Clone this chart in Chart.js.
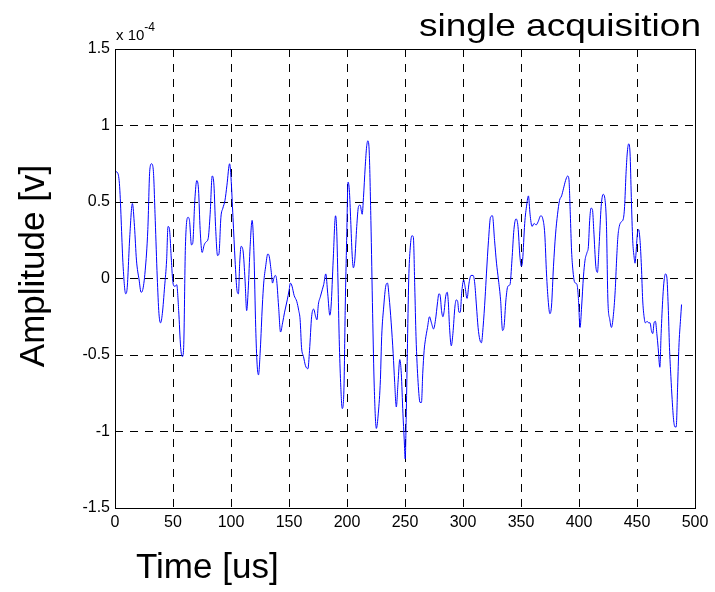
<!DOCTYPE html>
<html>
<head>
<meta charset="utf-8">
<script src="https://cdn.jsdelivr.net/npm/chart.js@4/dist/chart.umd.min.js"></script>
<style>
html,body{margin:0;padding:0;background:#fff;}
#wrap{width:715px;height:592px;}
</style>
</head>
<body>
<div id="wrap"><canvas id="c" width="715" height="592"></canvas></div>
<script>
// ---- data (time in microseconds, amplitude in units of 1e-4 V) ----
const timeUs = [
0,2.3,4,7,9.2,10.4,12.7,15,16.8,18.5,20.8,22.5,23.7,26,28.3,30,31.5,33,34.7,36.4,37.9,39.3,40.8,42.8,44.5,45.7,46.8,48.6,49.7,50.9,52,53.2,54.9,56.6,58.1,59.2,60.7,63,64.2,65.9,67,68.8,70.5,72,73.4,75.1,76.9,78.6,80.3,82,83.8,85.3,86.7,88.4,89.6,91.3,93,94.8,96.5,98.8,100,101.7,103.5,105.2,106.4,107.5,108.7,110.4,112.1,113.5,114.8,116.5,118.2,119.8,121.3,122.5,123.7,125.3,
127,128.2,129.9,131.7,132.8,134.6,135.8,136.9,138.1,139.2,141,142.7,144.5,146.2,148.5,150,151.2,152.6,154.4,156.7,158.4,159.6,160.8,162.5,164.2,166.3,167.7,169.5,171.2,173,174.1,175.3,177,178.8,179.9,181.7,183.4,185.2,186.3,188.1,190.1,191,192.2,193.3,194.5,195.9,197.4,198.5,199.7,200.9,202,203.2,204.4,205.5,206.7,208.4,209.9,211.3,213.1,214.2,215.7,216.9,218,219.2,220.6,222.1,223.5,225.3,227,228.8,229.9,231.7,233.4,234.9,236.3,238.1,239.8,241.1,242.5,244,245.5,246.8,248.2,249.3,250.2,
251,252,253.2,254.5,256,257.2,258.4,259.5,261.3,263,264.2,265.3,266.5,267.6,269.4,271.1,272.8,274.6,276.3,278,279.2,280.3,281.5,282.7,283.8,285,286.4,287.3,288.4,289.9,291.3,293.1,294.2,295.4,296.5,297.7,298.8,300.6,301.7,303.5,305.2,306.9,308.7,310.1,311.6,313,314.5,315.9,317.3,319.1,320.2,322,323.7,325.4,327.2,328.9,330.6,332.4,334.1,335.3,337,338.7,340.5,342.2,343.9,345.7,347.4,349.1,350.3,351.4,353.2,354.9,356.4,
357.8,359.5,361.3,363,364.7,367,368.8,370.5,372,373.4,374.9,376.3,378,379.8,381.5,383.2,385,386.7,388.4,390.2,391.3,392.5,393.6,394.8,396,397.1,398.3,399.4,400.9,402.3,403.8,405.2,406.9,408.1,409.2,410.4,411.6,412.7,414.5,415.9,417.3,419.1,420.8,422.5,423.7,424.9,426.6,428,429.5,431.2,432.4,433.5,434.7,436.4,438.2,439.3,440.5,441.6,442.8,444,445.1,446.3,447.5,448.3,449.1,450.3,451.4,452.6,453.8,454.9,456.1,457.2,458.7,460.1,461.3,462.4,463.6,464.7,465.9,467.1,468.2,469.7,470.8,472.3,473.4,474.6,475.7,476.9,478,479.2,480.3,481.5,482.7,483.8,485,486.1,487.6,488.4
];
const amplitudeE4 = [
0.70,0.69,0.60,0.08,-0.10,-0.07,0.27,0.49,0.34,0.12,-0.01,-0.09,-0.08,0.05,0.32,0.71,0.75,0.71,0.38,0.01,-0.23,-0.29,-0.23,-0.05,0.12,0.34,0.33,0.12,-0.01,-0.05,-0.05,-0.04,-0.21,-0.45,-0.51,-0.45,0.21,0.40,0.38,0.22,0.23,0.51,0.64,0.58,0.32,0.17,0.22,0.24,0.26,0.42,0.67,0.61,0.34,0.15,0.16,0.40,0.46,0.51,0.61,0.75,0.66,0.40,0.12,-0.08,-0.10,0.10,0.21,0.18,-0.01,-0.21,-0.08,0.21,0.38,0.16,-0.32,-0.56,-0.63,-0.46,
-0.18,-0.03,0.08,0.16,0.15,0.05,-0.03,0.00,0.02,0.00,-0.18,-0.35,-0.29,-0.22,-0.14,-0.08,-0.03,-0.05,-0.11,-0.15,-0.21,-0.27,-0.45,-0.51,-0.57,-0.59,-0.47,-0.25,-0.20,-0.25,-0.27,-0.17,-0.12,-0.07,-0.04,0.03,-0.10,-0.24,-0.18,0.12,0.41,0.34,-0.01,-0.40,-0.68,-0.85,-0.71,-0.18,0.25,0.63,0.58,0.38,0.16,0.07,0.12,0.34,0.47,0.48,0.42,0.53,0.73,0.86,0.90,0.82,0.38,-0.23,-0.71,-0.98,-0.88,-0.66,-0.38,-0.18,-0.05,-0.03,-0.12,-0.29,-0.49,-0.68,-0.84,-0.68,-0.53,-0.62,-0.88,-1.05,-1.18,
-0.92,-0.49,-0.01,0.20,0.28,0.27,-0.05,-0.38,-0.68,-0.81,-0.81,-0.62,-0.47,-0.40,-0.32,-0.25,-0.29,-0.33,-0.27,-0.16,-0.10,-0.11,-0.21,-0.25,-0.21,-0.12,-0.09,-0.15,-0.32,-0.44,-0.36,-0.18,-0.14,-0.15,-0.22,-0.22,-0.10,-0.01,-0.05,-0.13,-0.03,0.02,0.02,-0.03,-0.18,-0.32,-0.40,-0.42,-0.32,-0.12,0.03,0.25,0.40,0.41,0.25,0.10,-0.01,-0.14,-0.34,-0.32,-0.14,-0.05,-0.04,0.12,0.32,0.39,0.34,0.14,0.08,0.12,0.36,0.48,0.54,
0.42,0.34,0.36,0.35,0.37,0.41,0.39,0.29,0.03,-0.14,-0.23,-0.18,0.08,0.29,0.42,0.51,0.54,0.59,0.64,0.67,0.65,0.42,0.18,0.05,-0.02,-0.03,-0.04,-0.12,-0.32,-0.18,0.01,0.12,0.17,0.21,0.38,0.46,0.45,0.32,0.08,0.04,0.21,0.47,0.55,0.51,0.34,-0.14,-0.27,-0.32,-0.25,-0.08,0.12,0.27,0.34,0.37,0.39,0.47,0.68,0.82,0.88,0.82,0.53,0.25,0.14,0.10,0.16,0.29,0.32,0.25,0.08,-0.14,-0.25,-0.29,-0.28,-0.29,-0.29,-0.34,-0.36,-0.29,-0.28,-0.36,-0.45,-0.58,-0.36,-0.12,-0.01,0.03,0.01,-0.18,-0.45,-0.64,-0.79,-0.92,-0.97,-0.97,-0.71,-0.45,-0.26,-0.17
];
const xTickValues = [0,50,100,150,200,250,300,350,400,450,500];
const xTickLabels = ['0','50','100','150','200','250','300','350','400','450','500'];
const yTickValues = [-1.5,-1,-0.5,0,0.5,1,1.5];
const yTickLabels = ['-1.5','-1','-0.5','0','0.5','1','1.5'];
const titleText = 'single acquisition';
const xAxisTitle = 'Time [us]';
const yAxisTitle = 'Amplitude [v]';
const multiplierBase = 'x 10';
const multiplierExp = '-4';

const FONT = "'Liberation Sans', Arial, Helvetica, sans-serif";

const decorPlugin = {
  id: 'decor',
  afterDraw(chart) {
    const ctx = chart.ctx;
    const a = chart.chartArea;
    ctx.save();
    // axes box
    ctx.strokeStyle = '#000';
    ctx.lineWidth = 1;
    ctx.setLineDash([]);
    ctx.strokeRect(Math.round(a.left) + 0.5, Math.round(a.top) + 0.5,
                   Math.round(a.right - a.left), Math.round(a.bottom - a.top));
    ctx.fillStyle = '#000';
    // title (right aligned, slightly wide)
    ctx.font = '32px ' + FONT;
    ctx.textBaseline = 'alphabetic';
    ctx.textAlign = 'left';
    const tw = ctx.measureText(titleText).width;
    const target = 282;
    const sx = target / tw;
    ctx.save();
    ctx.translate(701 - target, 36);
    ctx.scale(sx, 1);
    ctx.fillText(titleText, 0, 0);
    ctx.restore();
    // multiplier
    ctx.font = '15px ' + FONT;
    ctx.fillText(multiplierBase, a.left + 1, 40);
    const mw = ctx.measureText(multiplierBase).width;
    ctx.font = '12px ' + FONT;
    ctx.fillText(multiplierExp, a.left + 1 + mw, 31);
    // x axis title
    ctx.font = '35px ' + FONT;
    ctx.fillText(xAxisTitle, 136, 578);
    // y axis title
    ctx.save();
    ctx.translate(44, 266);
    ctx.rotate(-Math.PI / 2);
    ctx.textAlign = 'center';
    ctx.fillText(yAxisTitle, 0, 0);
    ctx.restore();
    ctx.restore();
  }
};

new Chart(document.getElementById('c'), {
  type: 'line',
  data: {
    datasets: [{
      data: timeUs.map((t, i) => ({ x: t, y: amplitudeE4[i] })),
      borderColor: '#0000ff',
      borderWidth: 1,
      pointRadius: 0,
      fill: false,
      cubicInterpolationMode: 'monotone'
    }]
  },
  options: {
    responsive: false,
    animation: false,
    devicePixelRatio: 1,
    layout: { padding: { left: 0, right: 20, top: 49, bottom: 0 } },
    plugins: { legend: { display: false }, tooltip: { enabled: false }, title: { display: false } },
    scales: {
      x: {
        type: 'linear', min: 0, max: 500,
        afterBuildTicks: s => { s.ticks = xTickValues.map(v => ({ value: v })); },
        afterFit: s => { s.height = 84; },
        ticks: { callback: (v, i) => xTickLabels[i], color: '#000', font: { family: FONT, size: 16 }, padding: 5, maxRotation: 0, autoSkip: false },
        grid: { color: '#000', lineWidth: 1, drawTicks: false },
        border: { display: false, dash: [8, 7] }
      },
      y: {
        type: 'linear', min: -1.5, max: 1.5,
        afterBuildTicks: s => { s.ticks = yTickValues.map(v => ({ value: v })); },
        afterFit: s => { s.width = 115; },
        ticks: { callback: (v, i) => yTickLabels[i], color: '#000', font: { family: FONT, size: 16 }, padding: 5, autoSkip: false },
        grid: { color: '#000', lineWidth: 1, drawTicks: false },
        border: { display: false, dash: [8, 7] }
      }
    }
  },
  plugins: [decorPlugin]
});
</script>
</body>
</html>
